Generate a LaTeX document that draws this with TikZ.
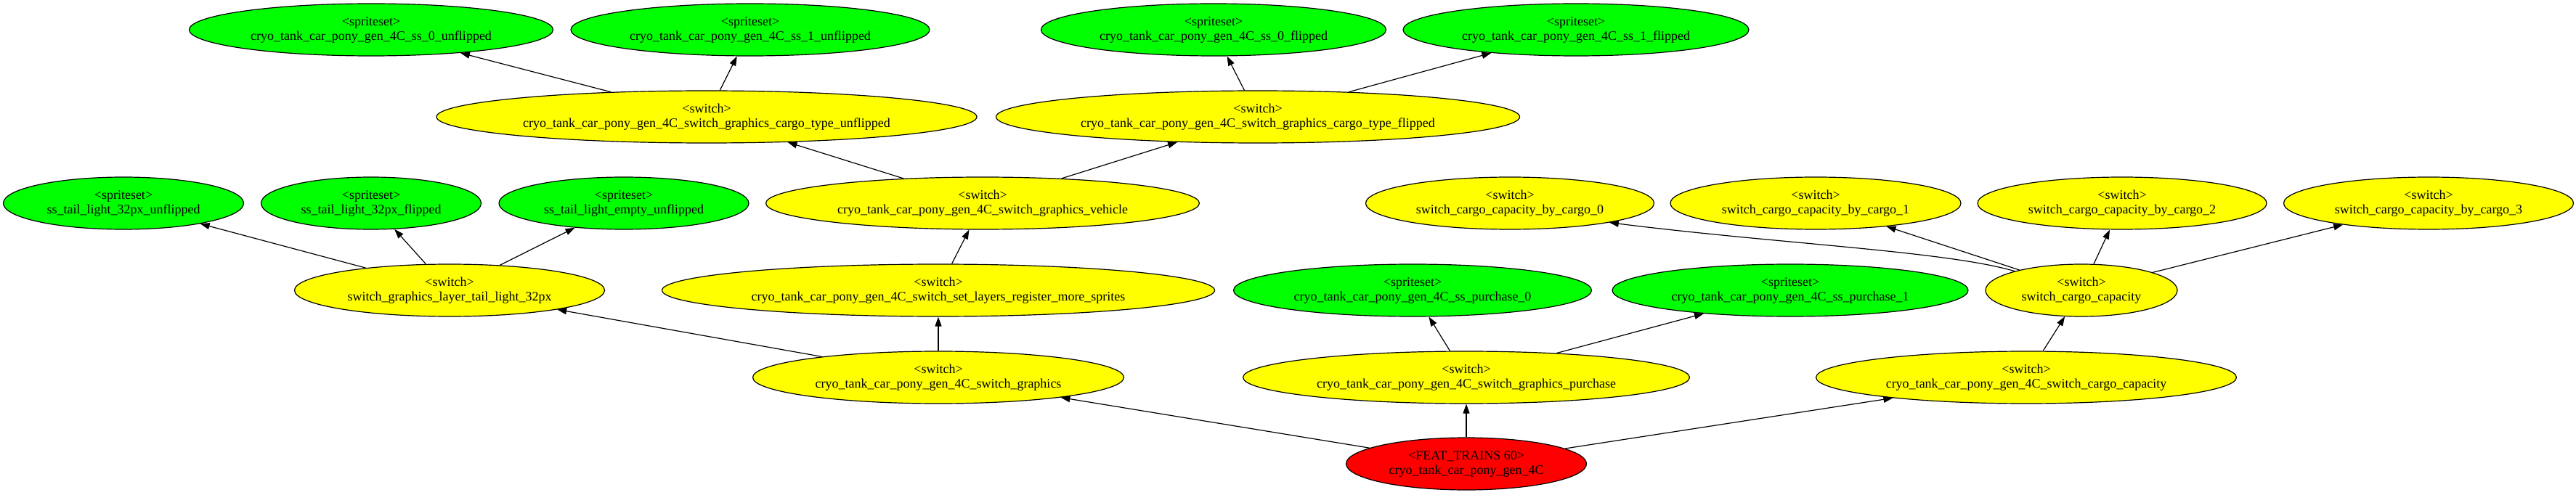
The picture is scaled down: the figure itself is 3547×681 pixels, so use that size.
\documentclass[tikz,border=0pt]{standalone}
\usepackage{fontspec}
\setmainfont{Liberation Serif}
\usetikzlibrary{shapes.geometric,arrows.meta}
\definecolor{gvgreen}{HTML}{00FF00}
\definecolor{gvyellow}{HTML}{FFFF00}
\definecolor{gvred}{HTML}{FF0000}
\tikzset{
  gvnode/.style={ellipse, draw=black, line width=1.2pt, inner sep=0pt,
    minimum height=72pt, align=center, font=\fontsize{18}{20}\selectfont},
  sprite/.style={gvnode, fill=gvgreen},
  swnode/.style={gvnode, fill=gvyellow},
  rootnode/.style={gvnode, fill=gvred},
  edge/.style={line width=1.2pt, -{Triangle[length=13pt,width=9pt]}},
}
\begin{document}
\begin{tikzpicture}[x=1pt,y=1pt]
\useasboundingbox (0,0) rectangle (3547,681);
% row 1
\node[sprite, minimum width=501pt] (A1) at (511,640) {<spriteset>\\cryo\_tank\_car\_pony\_gen\_4C\_ss\_0\_unflipped};
\node[sprite, minimum width=494pt] (A2) at (1033,640) {<spriteset>\\cryo\_tank\_car\_pony\_gen\_4C\_ss\_1\_unflipped};
\node[sprite, minimum width=475pt] (A3) at (1671,640) {<spriteset>\\cryo\_tank\_car\_pony\_gen\_4C\_ss\_0\_flipped};
\node[sprite, minimum width=476pt] (A4) at (2170,640) {<spriteset>\\cryo\_tank\_car\_pony\_gen\_4C\_ss\_1\_flipped};
% row 2
\node[swnode, minimum width=744pt] (B1) at (973,520) {<switch>\\cryo\_tank\_car\_pony\_gen\_4C\_switch\_graphics\_cargo\_type\_unflipped};
\node[swnode, minimum width=721pt] (B2) at (1732,520) {<switch>\\cryo\_tank\_car\_pony\_gen\_4C\_switch\_graphics\_cargo\_type\_flipped};
% row 3
\node[sprite, minimum width=331pt] (C1) at (170,401) {<spriteset>\\ss\_tail\_light\_32px\_unflipped};
\node[sprite, minimum width=303pt] (C2) at (511,401) {<spriteset>\\ss\_tail\_light\_32px\_flipped};
\node[sprite, minimum width=344pt] (C3) at (859,401) {<spriteset>\\ss\_tail\_light\_empty\_unflipped};
\node[swnode, minimum width=597pt] (C4) at (1353,401) {<switch>\\cryo\_tank\_car\_pony\_gen\_4C\_switch\_graphics\_vehicle};
\node[swnode, minimum width=397pt] (C5) at (2079,401) {<switch>\\switch\_cargo\_capacity\_by\_cargo\_0};
\node[swnode, minimum width=400pt] (C6) at (2500,401) {<switch>\\switch\_cargo\_capacity\_by\_cargo\_1};
\node[swnode, minimum width=398pt] (C7) at (2922,401) {<switch>\\switch\_cargo\_capacity\_by\_cargo\_2};
\node[swnode, minimum width=399pt] (C8) at (3344,401) {<switch>\\switch\_cargo\_capacity\_by\_cargo\_3};
% row 4
\node[swnode, minimum width=427pt] (D1) at (619,281) {<switch>\\switch\_graphics\_layer\_tail\_light\_32px};
\node[swnode, minimum width=761pt] (D2) at (1292,281) {<switch>\\cryo\_tank\_car\_pony\_gen\_4C\_switch\_set\_layers\_register\_more\_sprites};
\node[sprite, minimum width=493pt] (D3) at (1945,281) {<spriteset>\\cryo\_tank\_car\_pony\_gen\_4C\_ss\_purchase\_0};
\node[sprite, minimum width=490pt] (D4) at (2465,281) {<spriteset>\\cryo\_tank\_car\_pony\_gen\_4C\_ss\_purchase\_1};
\node[swnode, minimum width=264pt] (D5) at (2866,281) {<switch>\\switch\_cargo\_capacity};
% row 5
\node[swnode, minimum width=511pt] (E1) at (1292,161) {<switch>\\cryo\_tank\_car\_pony\_gen\_4C\_switch\_graphics};
\node[swnode, minimum width=615pt] (E2) at (2019,161) {<switch>\\cryo\_tank\_car\_pony\_gen\_4C\_switch\_graphics\_purchase};
\node[swnode, minimum width=579pt] (E3) at (2790,161) {<switch>\\cryo\_tank\_car\_pony\_gen\_4C\_switch\_cargo\_capacity};
% row 6
\node[rootnode, minimum width=331pt] (F) at (2019,42) {<FEAT\_TRAINS 60>\\cryo\_tank\_car\_pony\_gen\_4C};
% edges
\draw[edge] (F) -- (E1);
\draw[edge] (F) -- (E2);
\draw[edge] (F) -- (E3);
\draw[edge] (E1) -- (D1);
\draw[edge] (E1) -- (D2);
\draw[edge] (E2) -- (D3);
\draw[edge] (E2) -- (D4);
\draw[edge] (E3) -- (D5);
\draw[edge] (D1) -- (C1);
\draw[edge] (D1) -- (C2);
\draw[edge] (D1) -- (C3);
\draw[edge] (D2) -- (C4);
\draw[edge] (D5.164) .. controls (2680,335) and (2450,345) .. (C5.-11);
\draw[edge] (D5) -- (C6);
\draw[edge] (D5) -- (C7);
\draw[edge] (D5) -- (C8);
\draw[edge] (C4) -- (B1);
\draw[edge] (C4) -- (B2);
\draw[edge] (B1) -- (A1);
\draw[edge] (B1) -- (A2);
\draw[edge] (B2) -- (A3);
\draw[edge] (B2) -- (A4);
\end{tikzpicture}
\end{document}
